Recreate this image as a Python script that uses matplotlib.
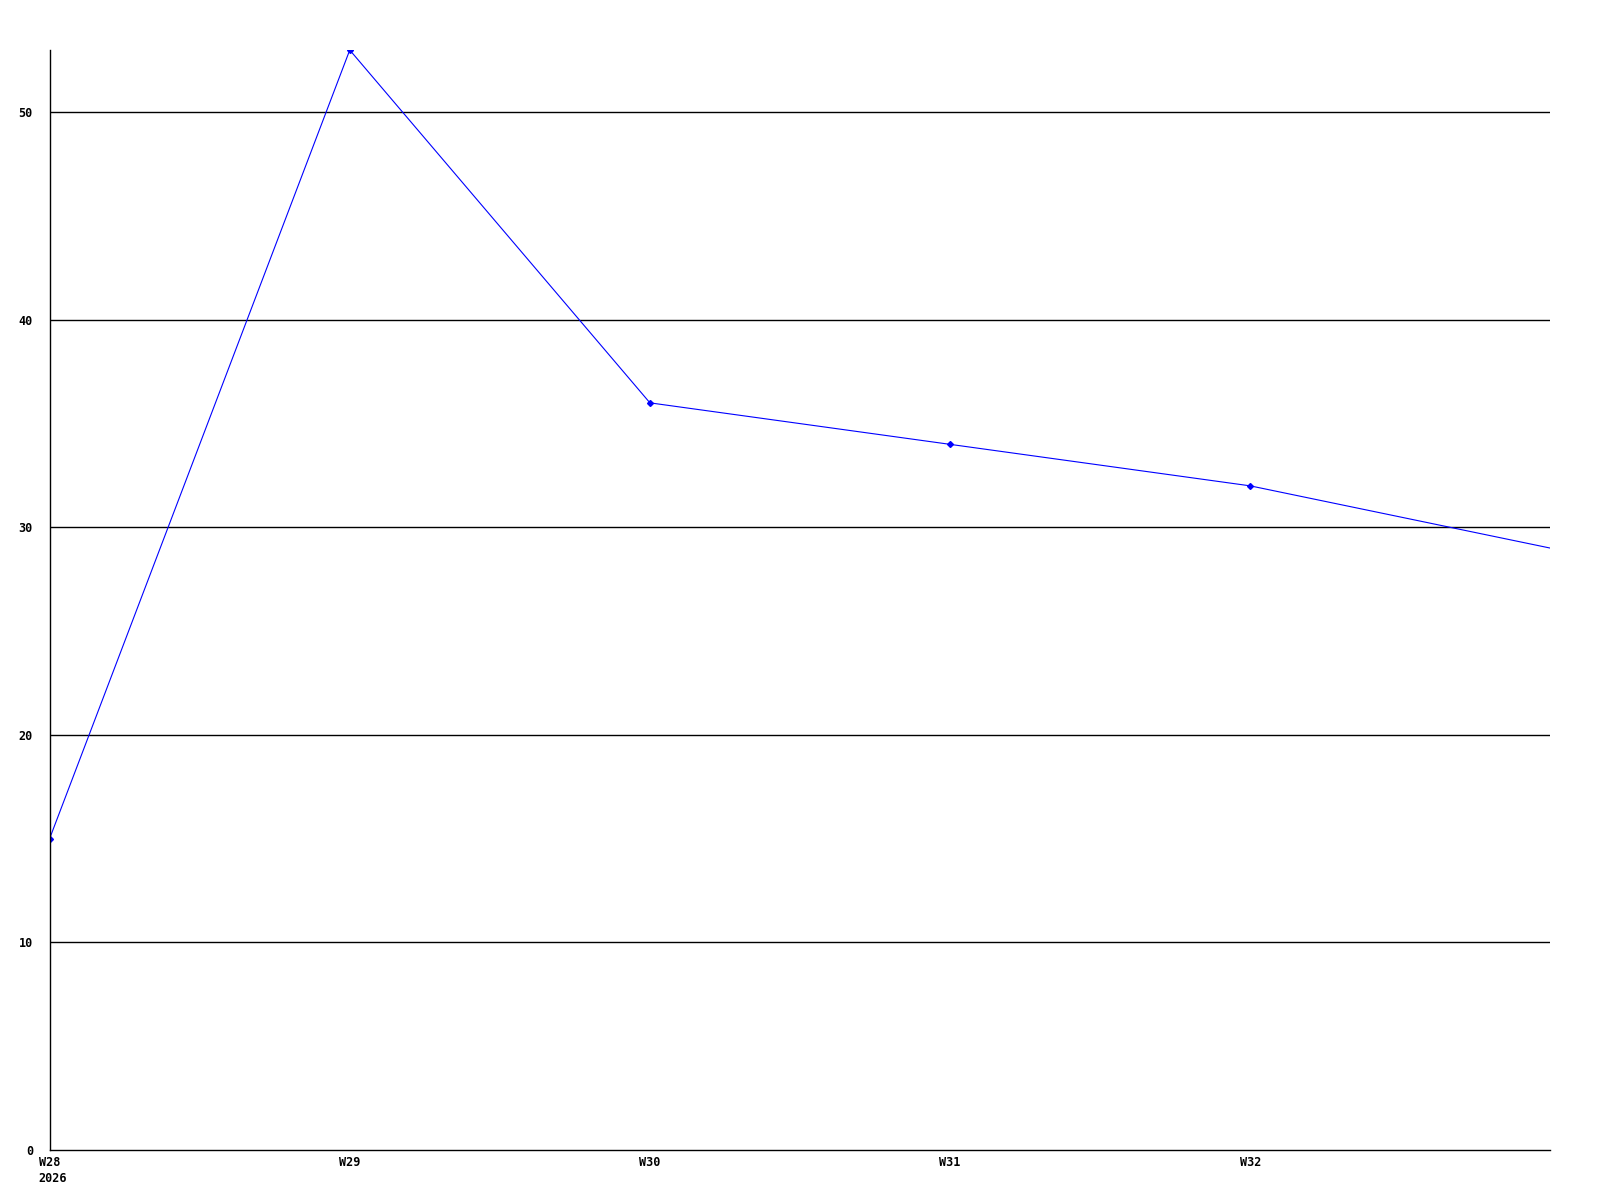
import matplotlib.pyplot as plt

# weekly values, last point (W33) sits on the right edge
weeks = ["W28\n2026", "W29", "W30", "W31", "W32", "W33"]
values = [15, 53, 36, 34, 32, 29]
yticks = [0, 10, 20, 30, 40, 50]

fig = plt.figure(figsize=(16, 12), dpi=100)
ax = fig.add_axes([0.031, 0.0417, 0.938, 0.9166])

x = list(range(len(weeks)))
ax.plot(x, values, color="#0000ff", linewidth=0.8, marker="D", markersize=3,
        markevery=list(range(len(weeks) - 1)))

# horizontal grid lines (black), no line at 0 - the bottom spine covers it
for v in yticks[1:]:
    ax.axhline(v, color="black", linewidth=1.0, zorder=0)

ax.set_xlim(0, len(weeks) - 1)
ax.set_ylim(0, 53)
ax.set_yticks(yticks)
ax.set_xticks(x[:-1])
# first label is drawn separately so it can be left aligned
ax.set_xticklabels([""] + weeks[1:-1])

font = dict(family="DejaVu Sans Mono", fontweight="bold", fontsize=8.5)
for lab in ax.get_xticklabels() + ax.get_yticklabels():
    lab.set_family(font["family"])
    lab.set_fontweight(font["fontweight"])
    lab.set_fontsize(font["fontsize"])

ax.annotate(weeks[0], xy=(x[0], 0), xycoords=("data", "axes fraction"),
            xytext=(-11, -6), textcoords="offset pixels",
            ha="left", va="top", linespacing=1.35, annotation_clip=False, **font)

ax.tick_params(axis="y", length=0, pad=12)
ax.tick_params(axis="x", length=0, pad=4)

ax.spines["top"].set_visible(False)
ax.spines["right"].set_visible(False)
ax.spines["left"].set_linewidth(1.0)
ax.spines["bottom"].set_linewidth(1.0)

fig.savefig("out.png", dpi=100)
